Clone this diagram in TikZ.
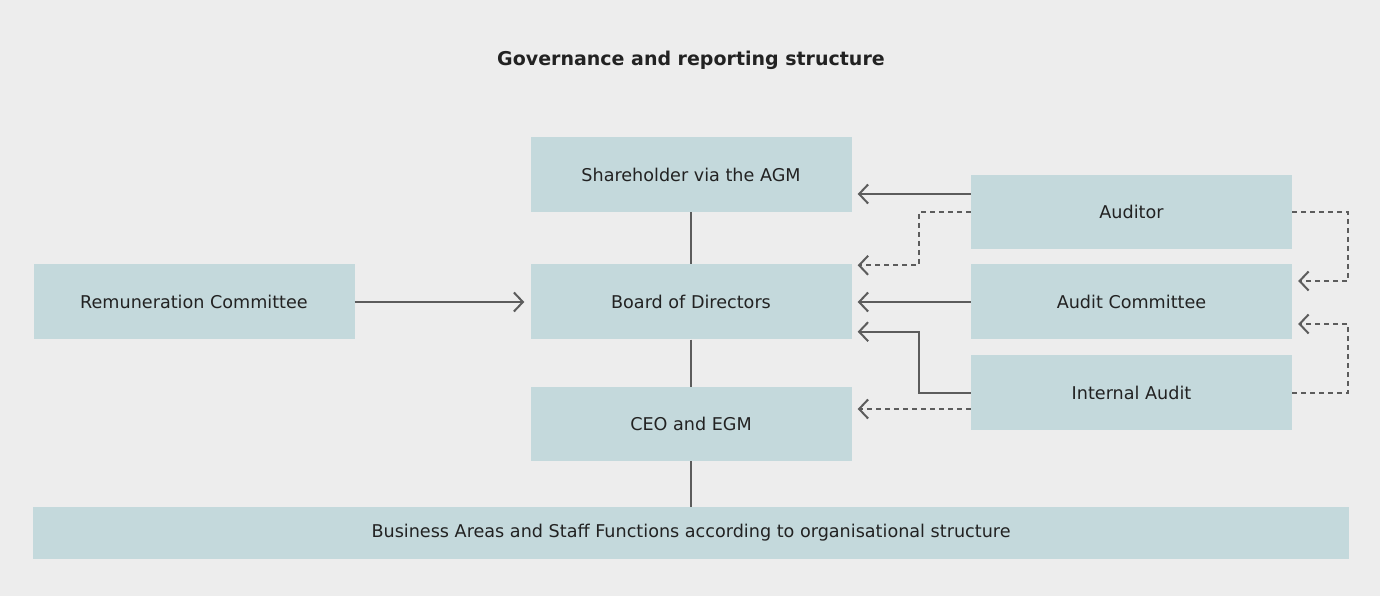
\documentclass[tikz,border=0pt]{standalone}
\usepackage{fontspec}
\setmainfont{DejaVu Sans}
\usetikzlibrary{arrows.meta,calc}
\definecolor{ink}{HTML}{222222}
\definecolor{page}{HTML}{EDEDED}
\definecolor{tealbox}{HTML}{C4D9DC}
\definecolor{wire}{HTML}{5C5C5C}
\tikzset{
  unit/.style={fill=tealbox,inner sep=0pt,minimum width=321pt,minimum height=75pt,align=center,font=\fontsize{17.6}{21}\selectfont,text=ink},
  link/.style={line width=2pt,draw=wire},
  report/.style={line width=2pt,draw=wire,-{Straight Barb[length=9pt,width=19pt,line width=2pt]},shorten >=6pt},
  dreport/.style={report,dash pattern=on 5pt off 4pt}
}

\begin{document}
\begin{tikzpicture}[x=1pt,y=1pt]
  \fill[page] (0,0) rectangle (1380,596);
  \useasboundingbox (0,0) rectangle (1380,596);
  \node[font=\fontsize{19}{22}\selectfont\bfseries,text=ink] (title) at (691,536) {Governance and reporting structure};

  \node[unit] (share) at (691,421.5) {Shareholder via the AGM};
  \node[unit] (board) at (691,294) {Board of Directors};
  \node[unit,minimum height=74pt] (ceo) at (691,172) {CEO and EGM};
  \node[unit] (rem) at (194,294) {Remuneration Committee};
  \node[unit,minimum height=74pt] (aud) at (1131.5,384) {Auditor};
  \node[unit] (acom) at (1131.5,294) {Audit Committee};
  \node[unit] (iaud) at (1131.5,203) {Internal Audit};
  \node[unit,minimum width=1316pt,minimum height=52pt] (biz) at (691,63) {Business Areas and Staff Functions according to organisational structure};

  % main line
  \draw[link] (share) -- (board);
  \draw[link] (board) -- (ceo);
  \draw[link] (ceo) -- (biz);
  \draw[report] (rem) -- (board);

  % auditor and committees
  \coordinate (audhi) at ([yshift=18pt]aud.west);
  \draw[report] (audhi) -- (audhi -| share.east);
  \draw[dreport] (aud.west) -- ++(-52,0) |- ([yshift=-1pt]board.north east);
  \draw[report] (acom) -- (board);
  \draw[report] (iaud.west) -- ++(-52,0) |- ([yshift=8pt]board.south east);
  \coordinate (iaudlo) at ([yshift=-16pt]iaud.west);
  \draw[dreport] (iaudlo) -- (iaudlo -| ceo.east);
  \draw[dreport] (aud.east) -- ++(56,0) |- ([yshift=21pt]acom.east);
  \draw[dreport] (iaud.east) -- ++(56,0) |- ([yshift=-22pt]acom.east);
\end{tikzpicture}
\end{document}
